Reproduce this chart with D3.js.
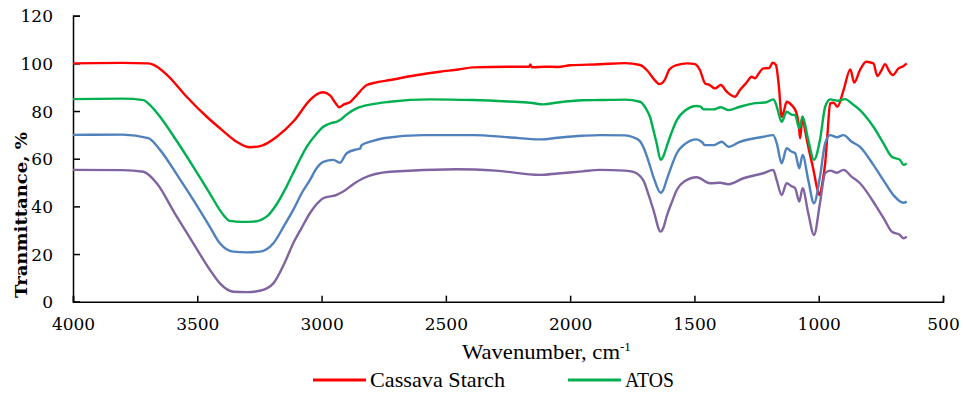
<!DOCTYPE html>
<html>
<head>
<meta charset="utf-8">
<script src="https://cdn.jsdelivr.net/npm/d3@7"></script>
<style>
  body { margin: 0; background: #fff; }
  svg { display: block; }
  .tick text { font-family: "DejaVu Serif", serif; font-size: 17px; fill: #000; }
</style>
</head>
<body>
<svg id="chart" width="963" height="394"></svg>
<script>
// wavenumber (cm-1), transmittance (%)
const starch = [[4000,100],[3800,100.2],[3700,100],[3678,99.5],[3620,95],[3543,86],[3462,77.6],[3400,72],[3340,67],[3288,64.8],[3240,65.5],[3180,69.2],[3110,76],[3047,84.6],[3010,87.5],[2993,87.9],[2965,86.5],[2945,83.5],[2929,81.6],[2910,82.8],[2886,83.7],[2860,86.5],[2818,90.9],[2780,92],[2725,93],[2620,95],[2524,96.5],[2450,97.4],[2391,98.3],[2250,98.6],[2165,98.6],[2160,99.5],[2155,98.4],[2100,98.6],[2049,98.5],[2000,99.2],[1880,99.6],[1780,100.1],[1719,99.3],[1690,97],[1660,93],[1641,91.3],[1620,93],[1600,97.5],[1571,99.3],[1530,100],[1498,99.7],[1478,97.2],[1457,91.6],[1440,91],[1417,89.5],[1394,90.9],[1370,88.1],[1337,86],[1317,88.8],[1290,92],[1270,94.4],[1256,93.7],[1240,96],[1223,97.9],[1200,98],[1185,100.3],[1172,99.3],[1160,90],[1149,77.6],[1140,80],[1129,83.9],[1109,82.5],[1091,79.7],[1080,74],[1075,68.6],[1070,73],[1065,77.6],[1055,72],[1042,65],[1021,55.3],[1005,47],[997,44.8],[985,50],[974,58.1],[965,70],[954,83.2],[940,83.5],[925,81.8],[900,88.8],[873,97.5],[857,91.9],[834,97.2],[809,100.7],[780,100],[764,94.7],[748,97],[733,99.7],[718,97],[702,95.1],[679,97.9],[660,98.8],[646,100]];

const atos = [[4000,85],[3800,85.2],[3717,84.6],[3690,82.5],[3650,77.6],[3580,67],[3516,56.6],[3450,45.5],[3395,36.4],[3369,33.9],[3320,33.5],[3275,33.6],[3221,35.7],[3180,41],[3141,48.3],[3100,57],[3060,65],[3020,70.5],[2993,73.4],[2960,75],[2939,75.5],[2926,76.2],[2900,78.5],[2859,81.1],[2800,82.8],[2725,83.9],[2564,84.9],[2390,84.6],[2250,84],[2161,83.5],[2107,82.8],[2050,83.6],[1950,84.5],[1880,84.6],[1780,84.8],[1719,83.9],[1695,81],[1679,77.6],[1665,72],[1652,66.5],[1636,59.5],[1625,61],[1612,65],[1590,71.5],[1571,76.2],[1540,80],[1491,82.1],[1475,81.8],[1464,80.7],[1424,80.7],[1394,81.6],[1363,80.4],[1317,81.8],[1263,83.2],[1210,83.7],[1183,84.9],[1172,83],[1163,79.7],[1149,75.5],[1129,79.7],[1110,78.5],[1095,78.3],[1078,72.8],[1065,77.6],[1042,67.8],[1019,59.5],[995,67.8],[974,81.8],[954,84.9],[921,84.3],[894,85],[867,83.2],[834,80.4],[780,73.4],[740,66.5],[706,60.8],[673,59.5],[659,57.4],[646,58]];

const sample3 = [[4000,70],[3800,70.1],[3697,68.6],[3650,63.7],[3580,53],[3516,42.7],[3450,31.5],[3409,24.5],[3355,21],[3300,20.7],[3248,21],[3194,24.5],[3150,32],[3114,38.5],[3080,45.5],[3047,51],[3020,56],[2993,58.7],[2953,59.5],[2926,58.3],[2899,62.3],[2859,63.9],[2845,64.2],[2839,65.7],[2800,67.3],[2752,68.6],[2591,69.9],[2390,69.9],[2250,69],[2121,68.1],[2050,68.8],[1950,69.6],[1880,69.9],[1780,69.8],[1746,69],[1720,67.5],[1706,65],[1685,59],[1665,52.4],[1636,45.7],[1625,47],[1612,51],[1590,57.5],[1571,62.3],[1540,66],[1491,68.1],[1470,67],[1457,65.7],[1424,65.7],[1390,67.1],[1363,65],[1317,67.1],[1223,69.2],[1183,69.9],[1169,66.5],[1149,58.1],[1129,64.4],[1110,63],[1095,62.3],[1078,56],[1065,61.6],[1042,51],[1019,41.3],[995,52.4],[974,66.5],[954,69.9],[927,69],[900,69.9],[867,67.1],[834,65],[780,57.4],[740,51],[700,44.8],[659,41.5],[646,42]];

const sample4 = [[4000,55.3],[3800,55.2],[3717,54.5],[3663,49.7],[3590,37],[3516,24.5],[3450,13.5],[3409,7.7],[3355,4.2],[3300,4],[3248,4.6],[3194,7.7],[3150,16],[3114,24.5],[3080,31],[3047,37.1],[3010,42],[2993,43.4],[2939,44.8],[2913,46.2],[2870,49.5],[2832,51.8],[2725,54.5],[2457,55.6],[2300,55],[2121,53.2],[2050,53.8],[1950,54.7],[1880,55.3],[1780,55],[1746,54.5],[1706,51],[1685,45],[1665,38.5],[1636,29.4],[1625,31],[1612,35.7],[1590,42],[1571,46.9],[1540,50.5],[1491,52.2],[1437,49.7],[1397,49.9],[1363,49.3],[1303,51.8],[1223,53.9],[1183,55.3],[1169,51],[1149,44.8],[1129,49.7],[1110,48.5],[1095,47.6],[1078,42],[1065,47.6],[1042,37.1],[1019,28],[995,41.3],[974,53.9],[954,55],[927,54.1],[900,55.3],[867,52.4],[834,49.7],[768,39.9],[735,34.3],[706,29.4],[673,28],[659,26.6],[646,27.3]];

const xTicks = [4000, 3500, 3000, 2500, 2000, 1500, 1000, 500];
const yTicks = [0, 20, 40, 60, 80, 100, 120];

const series = [
  { name: 'Cassava Starch', color: '#ff0000', values: starch, legend: true, textLen: 135 },
  { name: 'ATOS', color: '#00b050', values: atos, legend: true, textLen: 49 },
  { name: 'Sample 3', color: '#4f81bd', values: sample3, legend: false },
  { name: 'Sample 4', color: '#8064a2', values: sample4, legend: false }
];

const margin = { top: 15.7, left: 73, right: 20, bottom: 92.3 };
const width = 963, height = 394;
const innerW = 870, innerH = height - margin.top - margin.bottom;

const svg = d3.select('#chart');
const g = svg.append('g').attr('transform', `translate(${margin.left},${margin.top})`);

const x = d3.scaleLinear().domain([4000, 500]).range([0, innerW]);
const y = d3.scaleLinear().domain([0, 120]).range([innerH, 0]);

// axes, ticks point inward
const xAxis = g.append('g')
  .attr('transform', `translate(0,${innerH})`)
  .call(d3.axisBottom(x).tickValues(xTicks).tickSize(-6).tickPadding(16).tickFormat(d3.format('d')));
const yAxis = g.append('g')
  .call(d3.axisLeft(y).tickValues(yTicks).tickSize(-7).tickPadding(20));

[xAxis, yAxis].forEach(a => {
  a.select('.domain').attr('stroke', '#000').attr('stroke-width', 1.5);
  a.selectAll('.tick line').attr('stroke', '#000').attr('stroke-width', 1.5);
});
yAxis.selectAll('.tick text').attr('dy', '0.36em');

const line = d3.line()
  .x(d => x(d[0]))
  .y(d => y(d[1]))
  .curve(d3.curveMonotoneX);

g.selectAll('.series')
  .data(series)
  .enter().append('path')
  .attr('class', 'series')
  .attr('fill', 'none')
  .attr('stroke', d => d.color)
  .attr('stroke-width', 2.4)
  .attr('stroke-linejoin', 'round')
  .attr('d', d => line(d.values));

// axis titles
svg.append('text')
  .attr('transform', 'translate(27,215) rotate(-90)')
  .attr('text-anchor', 'middle')
  .style('font-family', '"DejaVu Serif", serif')
  .style('font-weight', 'bold')
  .style('font-size', '17px')
  .attr('textLength', 166)
  .attr('lengthAdjust', 'spacingAndGlyphs')
  .text('Tranmittance, %');

const xt = svg.append('text')
  .attr('x', 462)
  .attr('y', 359)
  .style('font-family', '"Liberation Serif", serif')
  .style('font-size', '21px');
xt.append('tspan')
  .attr('textLength', 158)
  .attr('lengthAdjust', 'spacingAndGlyphs')
  .text('Wavenumber, cm');
xt.append('tspan').attr('dy', -8).style('font-size', '13px').text('-1');

// legend
const legendItems = series.filter(s => s.legend);
const legendX = [313, 568];
const lg = svg.selectAll('.legend-item')
  .data(legendItems)
  .enter().append('g')
  .attr('class', 'legend-item')
  .attr('transform', (d, i) => `translate(${legendX[i]},380)`);

lg.append('line')
  .attr('x1', 0).attr('x2', 53)
  .attr('stroke', d => d.color)
  .attr('stroke-width', 3);

lg.append('text')
  .attr('x', 57)
  .attr('dy', '0.35em')
  .style('font-family', '"Liberation Serif", serif')
  .style('font-size', '21px')
  .attr('textLength', d => d.textLen)
  .attr('lengthAdjust', 'spacingAndGlyphs')
  .text(d => d.name);
</script>
</body>
</html>
